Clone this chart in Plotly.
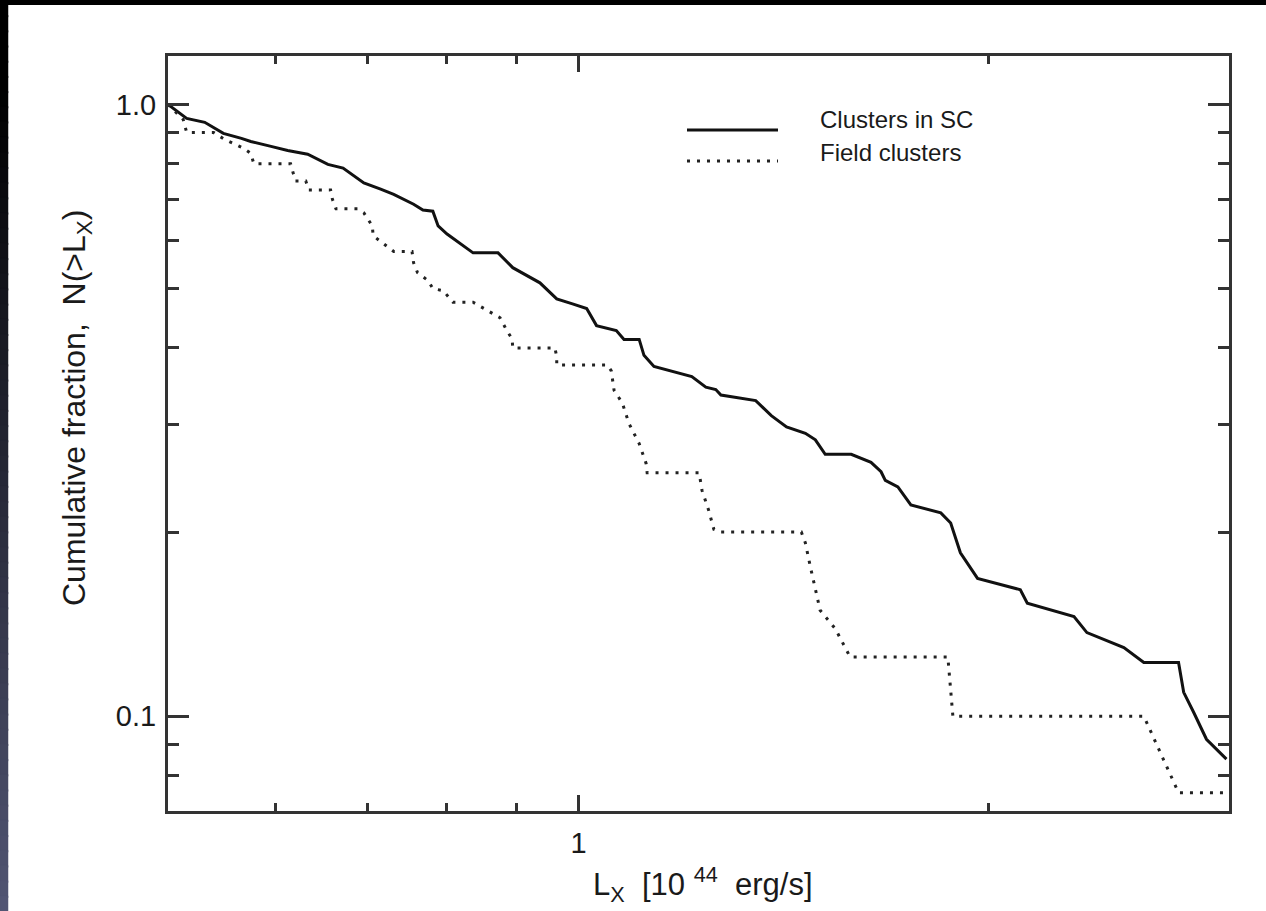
import plotly.graph_objects as go

# Cumulative X-ray luminosity functions, N(>L_X)
lx_sc = [0.500, 0.516, 0.532, 0.549, 0.566, 0.575, 0.595, 0.612, 0.633, 0.655,
         0.672, 0.696, 0.716, 0.732, 0.757, 0.769, 0.782, 0.789, 0.801, 0.837,
         0.873, 0.895, 0.937, 0.964, 0.990, 1.014, 1.031, 1.066, 1.080, 1.108,
         1.117, 1.136, 1.211, 1.240, 1.261, 1.272, 1.349, 1.385, 1.421, 1.467,
         1.492, 1.517, 1.585, 1.639, 1.667, 1.679, 1.715, 1.753, 1.844, 1.875,
         1.906, 1.962, 2.109, 2.134, 2.309, 2.360, 2.512, 2.598, 2.755, 2.779,
         2.826, 2.888, 2.987]
frac_sc = [1.000, 0.949, 0.935, 0.897, 0.880, 0.870, 0.854, 0.841, 0.829, 0.798,
           0.787, 0.744, 0.727, 0.713, 0.687, 0.672, 0.669, 0.633, 0.614, 0.572,
           0.572, 0.541, 0.511, 0.481, 0.472, 0.464, 0.435, 0.427, 0.413, 0.413,
           0.389, 0.373, 0.359, 0.345, 0.342, 0.335, 0.328, 0.310, 0.297, 0.290,
           0.283, 0.268, 0.268, 0.260, 0.251, 0.243, 0.237, 0.2215, 0.215, 0.207,
           0.185, 0.168, 0.161, 0.153, 0.1455, 0.137, 0.1295, 0.1224, 0.1224, 0.1094,
           0.1015, 0.0917, 0.0851]

lx_field = [0.500, 0.513, 0.516, 0.540, 0.550, 0.568, 0.575, 0.578, 0.615, 0.618,
            0.620, 0.631, 0.634, 0.658, 0.660, 0.664, 0.689, 0.696, 0.706, 0.707,
            0.724, 0.732, 0.755, 0.757, 0.762, 0.776, 0.782, 0.796, 0.809, 0.837,
            0.876, 0.886, 0.894, 0.895, 0.961, 0.964, 0.964, 1.050, 1.057, 1.062,
            1.077, 1.089, 1.108, 1.121, 1.123, 1.226, 1.232, 1.246, 1.257, 1.272,
            1.457, 1.467, 1.479, 1.492, 1.504, 1.543, 1.582, 1.866, 1.872, 1.875,
            1.882, 2.598, 2.755, 2.987]
frac_field = [1.000, 0.945, 0.900, 0.900, 0.877, 0.848, 0.832, 0.800, 0.800, 0.772,
              0.750, 0.750, 0.725, 0.725, 0.700, 0.675, 0.675, 0.665, 0.633, 0.610,
              0.587, 0.575, 0.575, 0.551, 0.531, 0.515, 0.500, 0.496, 0.475, 0.475,
              0.448, 0.427, 0.414, 0.400, 0.400, 0.387, 0.375, 0.375, 0.367, 0.341,
              0.325, 0.301, 0.279, 0.259, 0.250, 0.250, 0.234, 0.217, 0.202, 0.200,
              0.200, 0.192, 0.176, 0.161, 0.149, 0.139, 0.125, 0.125, 0.115, 0.107,
              0.100, 0.100, 0.075, 0.075]

series_names = ["Clusters in SC", "Field clusters"]

x_major = [1]
x_major_text = ["1"]
x_minor = [0.5, 0.6, 0.7, 0.8, 0.9, 2, 3]
y_major = [0.1, 1.0]
y_major_text = ["0.1", "1.0"]
y_minor = [0.07, 0.08, 0.09, 0.2, 0.3, 0.4, 0.5, 0.6, 0.7, 0.8, 0.9]

W, H = 1266, 911
L, R, T, B = 168, 37, 56, 100
PW, PH = W - L - R, H - T - B


def px_x(p):
    return (p - L) / PW


def px_y(p):
    return (H - B - p) / PH


FONT = "Liberation Sans, Arial, Helvetica, sans-serif"
INK = "#1a1a1a"
AXC = "#333333"

fig = go.Figure()
fig.add_trace(go.Scatter(x=lx_sc, y=frac_sc, mode="lines", name=series_names[0],
                         line=dict(color="#111111", width=3), showlegend=False))
fig.add_trace(go.Scatter(x=lx_field, y=frac_field, mode="lines", name=series_names[1],
                         line=dict(color="#222222", width=3, dash="3px,7px"),
                         showlegend=False))

shapes = []
# slide backdrop: shaded strip down the left, dark band along the top
n_seg = 60
for i in range(n_seg):
    y0p = H * i / n_seg
    y1p = H * (i + 1) / n_seg + 2
    t = max(0.0, ((y0p + y1p) / 2 - 90) / (H - 90))
    col = "rgb(%d,%d,%d)" % (int(82 * t), int(86 * t), int(116 * t))
    shapes.append(dict(type="rect", xref="paper", yref="paper", x0=px_x(0), x1=px_x(8),
                       y0=px_y(y1p), y1=px_y(y0p), fillcolor=col,
                       line=dict(width=0.5, color=col), layer="above"))
shapes.append(dict(type="rect", xref="paper", yref="paper", x0=px_x(0), x1=px_x(W),
                   y0=px_y(5), y1=px_y(0), fillcolor="black", line_width=0, layer="above"))

# legend samples
shapes.append(dict(type="line", xref="paper", yref="paper", x0=px_x(687), x1=px_x(778),
                   y0=px_y(130), y1=px_y(130), line=dict(color="#111111", width=3)))
shapes.append(dict(type="line", xref="paper", yref="paper", x0=px_x(687), x1=px_x(778),
                   y0=px_y(161), y1=px_y(161),
                   line=dict(color="#222222", width=3, dash="3px,7px")))

annotations = [
    dict(text=series_names[0], xref="paper", yref="paper", x=px_x(818), y=px_y(119),
         xanchor="left", yanchor="middle", showarrow=False,
         font=dict(family=FONT, size=24, color=INK)),
    dict(text=series_names[1], xref="paper", yref="paper", x=px_x(818), y=px_y(152),
         xanchor="left", yanchor="middle", showarrow=False,
         font=dict(family=FONT, size=24, color=INK)),
    dict(text="Cumulative fraction,  N(&gt;L<sub>X</sub>)", xref="paper", yref="paper",
         x=px_x(76), y=px_y(408), xanchor="center", yanchor="middle", textangle=-90,
         showarrow=False, font=dict(family=FONT, size=32, color=INK)),
    dict(text="L<sub>X</sub>\u00a0 [10\u00a0<sup>44</sup>\u00a0 erg/s]", xref="paper",
         yref="paper", x=px_x(703), y=px_y(884), xanchor="center", yanchor="middle",
         showarrow=False, font=dict(family=FONT, size=31, color=INK)),
]

axis_common = dict(showline=True, linecolor=AXC, linewidth=3, mirror="allticks",
                   ticks="inside", tickcolor=AXC, tickwidth=3, showgrid=False,
                   zeroline=False, tickfont=dict(family=FONT, size=29, color=INK))

fig.update_layout(
    width=W, height=H, autosize=False,
    margin=dict(l=L, r=R, t=T, b=B, pad=0),
    paper_bgcolor="white", plot_bgcolor="white",
    shapes=shapes, annotations=annotations, showlegend=False,
    xaxis=dict(type="log", range=[-0.30103, 0.47712], tickmode="array",
               tickvals=x_major, ticktext=x_major_text, ticklen=16,
               ticklabelstandoff=4,
               minor=dict(tickmode="array", tickvals=x_minor, ticks="inside",
                          ticklen=8, tickwidth=3, tickcolor=AXC, showgrid=False),
               **axis_common),
    yaxis=dict(type="log", range=[-1.15490, 0.07918], tickmode="array",
               tickvals=y_major, ticktext=y_major_text, ticklen=21,
               ticklabelstandoff=3,
               minor=dict(tickmode="array", tickvals=y_minor, ticks="inside",
                          ticklen=11, tickwidth=3, tickcolor=AXC, showgrid=False),
               **axis_common),
)

fig.write_html("out.html")
